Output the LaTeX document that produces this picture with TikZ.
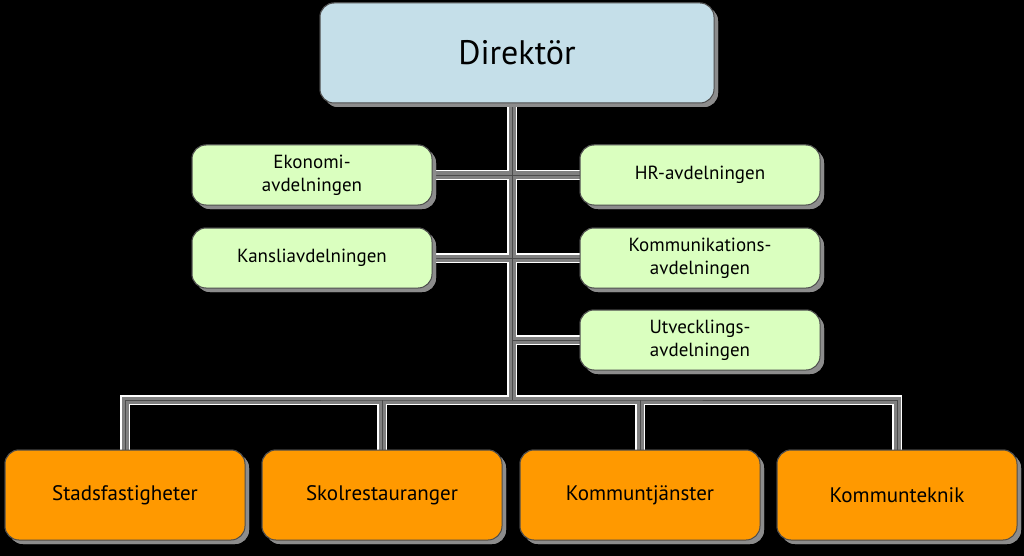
\documentclass[tikz,border=0pt]{standalone}
\usepackage{fontspec}
\setmainfont{PT Sans}
\usetikzlibrary{shadows}
\begin{document}
\begin{tikzpicture}[x=1pt, y=-1pt,
    box/.style={draw=black!70, line width=1pt, rounded corners=14pt, align=center,
      drop shadow={shadow xshift=4pt, shadow yshift=-4pt, fill=gray!90, opacity=1}},
    chief/.style={box, fill=cyan!30!teal!25!white, minimum width=394pt, minimum height=100pt,
      font=\fontsize{34}{40}\selectfont},
    staff/.style={box, fill=green!45!lime!25!white, minimum width=240pt, minimum height=60pt,
      font=\fontsize{19}{23}\selectfont},
    unit/.style={box, fill=orange!80!yellow, minimum width=240pt, minimum height=90pt,
      font=\fontsize{21}{25}\selectfont}]
    \fill[black] (0,0) rectangle (1024,556);

    \node[chief] (dir) at (517,53) {Direktör};

    \node[staff] (eko) at (312,175) {Ekonomi-\\avdelningen};
    \node[staff] (hr) at (700,175) {HR-avdelningen};
    \node[staff] (kan) at (312,258) {Kansliavdelningen};
    \node[staff] (kom) at (700,258) {Kommunikations-\\avdelningen};
    \node[staff] (utv) at (700,340) {Utvecklings-\\avdelningen};

    \node[unit] (sta) at (125,495) {Stadsfastigheter};
    \node[unit] (sko) at (382,495) {Skolrestauranger};
    \node[unit] (kmt) at (640,495) {Kommuntjänster};
    \node[unit] (kte) at (897,495) {Kommunteknik};

    \coordinate (bus) at (512,400);

    % connectors: light edge, grey body, dark core
    \begin{scope}[on background layer/.style={}]
    \foreach \w/\c in {10/white, 7/gray, 0.8/black!70} {
      \draw[line width=\w pt, color=\c] (dir.south -| bus) -- (bus);
      \draw[line width=\w pt, color=\c] (eko.east) -- (hr.west);
      \draw[line width=\w pt, color=\c] (kan.east) -- (kom.west);
      \draw[line width=\w pt, color=\c] (utv.west) -- (utv.west -| bus);
      \draw[line width=\w pt, color=\c] (sta.north) |- (bus) -| (kte.north);
      \draw[line width=\w pt, color=\c] (sko.north) -- (sko.north |- bus);
      \draw[line width=\w pt, color=\c] (kmt.north) -- (kmt.north |- bus);
    }
    \end{scope}

    % boxes again on top of the connectors
    \node[chief] at (dir) {Direktör};
    \node[staff] at (eko) {Ekonomi-\\avdelningen};
    \node[staff] at (hr) {HR-avdelningen};
    \node[staff] at (kan) {Kansliavdelningen};
    \node[staff] at (kom) {Kommunikations-\\avdelningen};
    \node[staff] at (utv) {Utvecklings-\\avdelningen};
    \node[unit] at (sta) {Stadsfastigheter};
    \node[unit] at (sko) {Skolrestauranger};
    \node[unit] at (kmt) {Kommuntjänster};
    \node[unit] at (kte) {Kommunteknik};
\end{tikzpicture}
\end{document}
